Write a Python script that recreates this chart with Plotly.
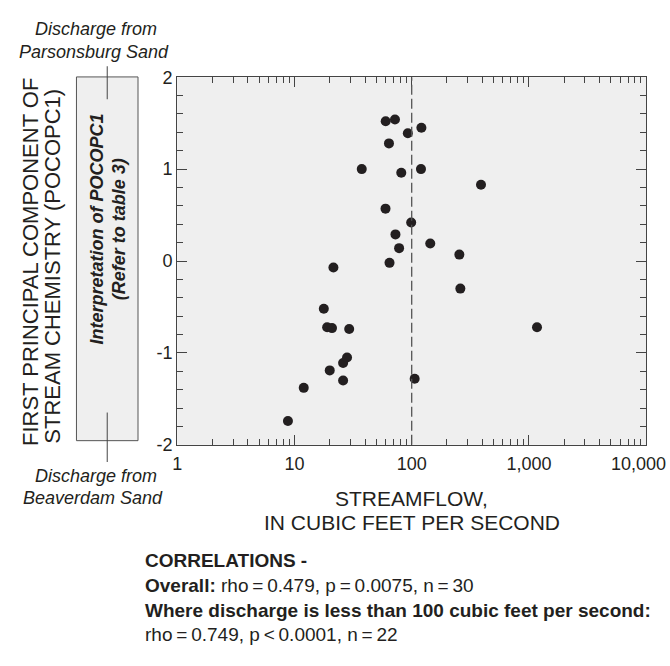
import plotly.graph_objects as go

# ---- data ----
streamflow = [8.8, 12.0, 20.0, 26.0, 26.0, 28.1, 17.8, 19.0, 20.9, 29.3,
              21.5, 64.7, 78.1, 72.7, 99.0, 59.8, 37.5, 60.0, 72.0, 64.0,
              92.7, 81.5, 106.0, 121.0, 120.0, 390.0, 144.0, 255.0, 260.0, 1172.0]
pocopc1 = [-1.74, -1.38, -1.19, -1.30, -1.11, -1.05, -0.52, -0.72, -0.73, -0.74,
           -0.07, -0.02, 0.14, 0.29, 0.42, 0.57, 1.00, 1.52, 1.54, 1.28,
           1.39, 0.96, -1.28, 1.45, 1.00, 0.83, 0.19, 0.07, -0.30, -0.72]
x_tickvals = [1, 10, 100, 1000, 10000]
x_ticktext = ["1", "10", "100", "1,000", "10,000"]
x_minor_digits = [2, 3, 4, 5, 6, 7, 8, 9]
y_tickvals = [-2, -1, 0, 1, 2]
y_ticktext = ["-2", "-1", "0", "1", "2"]
threshold = 100

W, H = 670, 666
def px(x):
    return x / W
def py(y):
    return 1 - y / H

SANS = "Liberation Sans, Arial, sans-serif"
DARK = "#231f20"

fig = go.Figure()
fig.add_trace(go.Scatter(
    x=streamflow, y=pocopc1, mode="markers",
    marker=dict(size=10, color=DARK, line=dict(width=0)),
    showlegend=False, hoverinfo="x+y"))

# dashed reference line at 100 cfs
fig.add_shape(type="line", xref="x", yref="y domain", x0=threshold, x1=threshold,
              y0=0, y1=1, line=dict(color="#555555", width=1.3, dash="10px,4px"))

# left interpretation box
fig.add_shape(type="rect", xref="paper", yref="paper",
              x0=px(72), x1=px(134), y0=py(444), y1=py(69),
              fillcolor="#efefef", line=dict(color="#555555", width=1), layer="below")
fig.add_shape(type="line", xref="paper", yref="paper",
              x0=px(103), x1=px(103), y0=py(58), y1=py(92),
              line=dict(color="#444444", width=1))
fig.add_shape(type="line", xref="paper", yref="paper",
              x0=px(103), x1=px(103), y0=py(415), y1=py(466),
              line=dict(color="#444444", width=1))

ann = []
def text(x, y, s, size=16, angle=0, xanchor="center", yanchor="middle"):
    ann.append(dict(x=px(x), y=py(y), xref="paper", yref="paper", text=s,
                    showarrow=False, textangle=angle, xanchor=xanchor, yanchor=yanchor,
                    font=dict(size=size, family=SANS, color=DARK)))

text(92, 20, "<i>Discharge from</i>", size=18)
text(90, 43, "<i>Parsonsburg Sand</i>", size=18)
text(92, 480, "<i>Discharge from</i>", size=18)
text(89, 503, "<i>Beaverdam Sand</i>", size=18)
text(93, 226, "<b><i>Interpretation of POCOPC1</i></b>", size=18, angle=-90)
text(115, 226, "<b><i>(Refer to table 3)</i></b>", size=18, angle=-90)
text(25, 260, "FIRST PRINCIPAL COMPONENT OF", size=22, angle=-90)
text(47, 264, "STREAM CHEMISTRY (POCOPC1)", size=22, angle=-90)
text(410, 504, "STREAMFLOW,", size=21)
text(410, 528, "IN CUBIC FEET PER SECOND", size=21)
text(139, 568, "<b>CORRELATIONS -</b>", size=19, xanchor="left")
text(139, 593, "<b>Overall:</b> rho\u2009=\u20090.479, p\u2009=\u20090.0075, n\u2009=\u200930", size=19, xanchor="left")
text(139, 619, "<b>Where discharge is less than 100 cubic feet per second:</b>", size=19, xanchor="left")
text(139, 644, "rho\u2009=\u20090.749, p\u2009<\u20090.0001, n\u2009=\u200922", size=19, xanchor="left")

# last x tick label, pulled inside the page like the reference
ann.append(dict(x=4, y=0, xref="x", yref="y domain", text=x_ticktext[-1], showarrow=False,
                xanchor="right", yanchor="top", xshift=22, yshift=-7,
                font=dict(size=18, family=SANS, color=DARK)))

axis_common = dict(showline=True, linecolor="#444444", linewidth=1, mirror="ticks",
                   ticks="inside", tickcolor="#444444", showgrid=False, zeroline=False,
                   tickfont=dict(size=18, family=SANS, color=DARK))

minor_x = [d * 10 ** k for k in range(4) for d in x_minor_digits]

fig.update_layout(
    width=W, height=H, margin=dict(l=0, r=0, t=0, b=0),
    paper_bgcolor="white", plot_bgcolor="#efefef",
    annotations=ann,
    xaxis=dict(type="log", range=[0, 4], domain=[px(173.5), px(646)],
               tickvals=x_tickvals, ticktext=x_ticktext[:-1] + [""], ticklen=10,
               ticklabelstandoff=3,
               minor=dict(ticks="inside", ticklen=6, tickvals=minor_x,
                          tickcolor="#444444", showgrid=False),
               **axis_common),
    yaxis=dict(range=[-2, 2], domain=[py(448.3), py(69.3)],
               tickvals=y_tickvals, ticktext=y_ticktext, ticklen=10,
               minor=dict(ticks="inside", ticklen=6, dtick=0.2, tickcolor="#444444", showgrid=False),
               **axis_common),
)

fig.write_html(
    "out.html",
    post_script="document.body.style.margin='0';document.body.style.overflow='hidden';",
)
